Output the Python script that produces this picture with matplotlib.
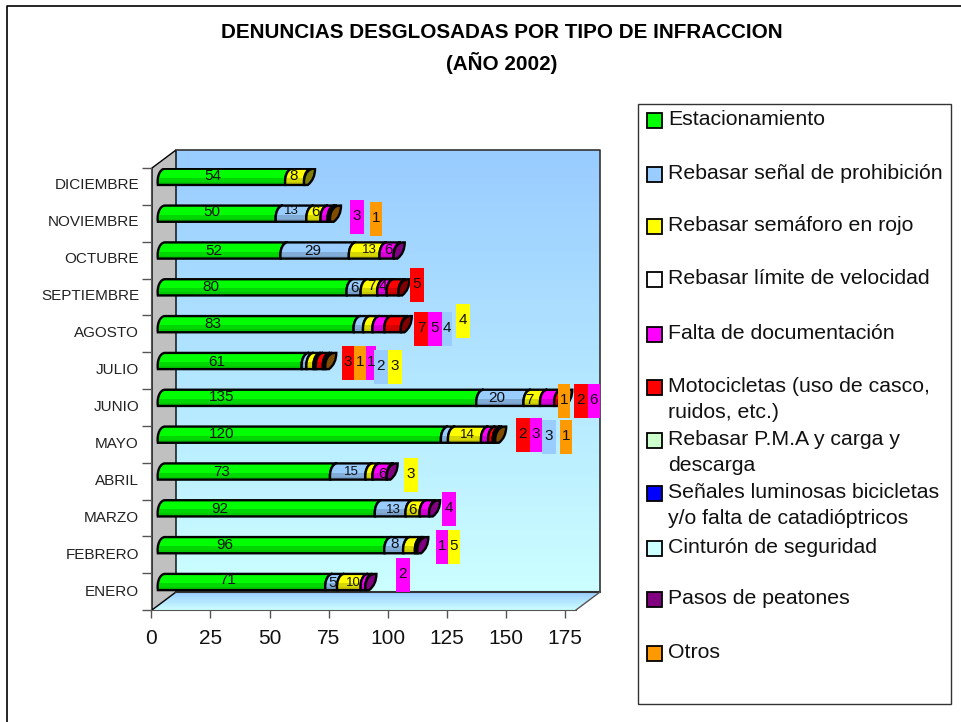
# -*- coding: utf-8 -*-
import numpy as np
import matplotlib
matplotlib.use('Agg')
import matplotlib.pyplot as plt
from matplotlib.path import Path
from matplotlib.patches import PathPatch, Polygon, Rectangle
from matplotlib.colors import to_rgb

plt.rcParams['font.family'] = ['Liberation Sans', 'DejaVu Sans']

# months from bottom to top of the chart
meses = ['ENERO', 'FEBRERO', 'MARZO', 'ABRIL', 'MAYO', 'JUNIO', 'JULIO', 'AGOSTO',
         'SEPTIEMBRE', 'OCTUBRE', 'NOVIEMBRE', 'DICIEMBRE']
estacionamiento = [71, 96, 92, 73, 120, 135, 61, 83, 80, 52, 50, 54]
senal = [5, 8, 13, 15, 3, 20, 2, 4, 6, 29, 13, 0]
semaforo = [10, 5, 6, 3, 14, 7, 3, 4, 7, 13, 6, 8]
limite = [0] * 12
documentacion = [2, 1, 4, 6, 3, 6, 1, 5, 4, 6, 3, 0]
motos = [0, 0, 0, 0, 2, 2, 3, 7, 5, 0, 0, 0]
pma = [0] * 12
luminosas = [0] * 12
cinturon = [0] * 12
pasos = [0] * 12
otros = [0, 0, 0, 0, 1, 1, 1, 0, 0, 0, 1, 0]

series = [estacionamiento, senal, semaforo, limite, documentacion, motos,
          pma, luminosas, cinturon, pasos, otros]
colores = ['#00FF00', '#99CCFF', '#FFFF00', '#FFFFFF', '#FF00FF', '#FF0000',
           '#CCFFCC', '#0000FF', '#CCFFFF', '#800080', '#FF9900']
leyenda = ['Estacionamiento', 'Rebasar señal de prohibición', 'Rebasar semáforo en rojo',
           'Rebasar límite de velocidad', 'Falta de documentación',
           'Motocicletas (uso de casco,\nruidos, etc.)', 'Rebasar P.M.A y carga y\ndescarga',
           'Señales luminosas bicicletas\ny/o falta de catadióptricos',
           'Cinturón de seguridad', 'Pasos de peatones', 'Otros']
ticks_x = [0, 25, 50, 75, 100, 125, 150, 175]

# layout below, in pixels of the picture
ley_y = [119, 173, 225, 278, 333, 386, 439, 492, 547, 598, 652]
pos_dentro = {(11, 0): (213, 176), (11, 2): (294, 176),
              (10, 0): (212, 212), (10, 1): (291, 211), (10, 2): (316, 212),
              (9, 0): (214, 251), (9, 1): (313, 251), (9, 2): (369, 250), (9, 4): (389, 250),
              (8, 0): (211, 287), (8, 1): (355, 288), (8, 2): (371, 286), (8, 4): (383, 286),
              (7, 0): (213, 324), (6, 0): (217, 362),
              (5, 0): (222, 397), (5, 1): (497, 398), (5, 2): (529, 400),
              (4, 0): (222, 434), (4, 2): (467, 435),
              (3, 0): (222, 472), (3, 1): (351, 472), (3, 4): (383, 474),
              (2, 0): (220, 509), (2, 1): (393, 510), (2, 2): (413, 510),
              (1, 0): (225, 545), (1, 1): (395, 544),
              (0, 0): (228, 580), (0, 1): (333, 583), (0, 2): (353, 583)}
cajas = {(10, 4): (350, 364, 200), (10, 10): (370, 382, 202),
         (8, 5): (410, 424, 268),
         (7, 5): (414, 428, 312), (7, 4): (428, 442, 312), (7, 1): (442, 452, 312),
         (7, 2): (456, 470, 304),
         (6, 5): (342, 354, 346), (6, 10): (354, 366, 346), (6, 4): (366, 376, 346),
         (6, 1): (374, 388, 350), (6, 2): (388, 402, 350),
         (5, 10): (558, 570, 384), (5, 5): (574, 588, 384), (5, 4): (588, 600, 384),
         (4, 5): (516, 530, 418), (4, 4): (530, 542, 418), (4, 1): (542, 556, 420),
         (4, 10): (560, 572, 420),
         (3, 2): (404, 418, 458), (2, 4): (442, 456, 492),
         (1, 4): (436, 448, 530), (1, 2): (448, 460, 530), (0, 4): (396, 410, 558)}
pequenos = [(10, 1), (9, 2), (4, 2), (3, 1), (2, 1), (0, 2)]

fig = plt.figure(figsize=(9.62, 7.22), dpi=100)


def capa(z):
    a = fig.add_axes([0, 0, 1, 1], zorder=z)
    a.set_xlim(0, 962)
    a.set_ylim(722, 0)
    a.axis('off')
    return a


def degradado(a, puntos, c1, c2):
    pol = Polygon(puntos, closed=True, facecolor='none', edgecolor='none')
    a.add_patch(pol)
    xs = [p[0] for p in puntos]
    ys = [p[1] for p in puntos]
    g = np.linspace(0, 1, 128)[:, None, None]
    img = (1 - g) * np.array(to_rgb(c1)) + g * np.array(to_rgb(c2))
    im = a.imshow(img, extent=(min(xs), max(xs), max(ys), min(ys)), aspect='auto', zorder=1)
    im.set_clip_path(pol)


fondo = capa(0)
frente = capa(3)

# page frame
fondo.plot([7.5, 7.5, 962], [722, 5.5, 5.5], color='black', lw=1.2)

# back wall, floor, side wall
degradado(fondo, [(176, 150), (600, 150), (600, 592), (176, 592)], '#99CCFF', '#CCFFFF')
degradado(fondo, [(176, 592), (600, 592), (576, 610), (152, 610)], '#99CCFF', '#CCFFFF')
fondo.add_patch(Polygon([(152, 168), (176, 150), (176, 592), (152, 610)], closed=True,
                        facecolor='#C0C0C0', edgecolor='black', lw=1, zorder=2))
fondo.plot([176, 600, 600], [150, 150, 592], color='#333333', lw=1.2, zorder=3)
fondo.plot([176, 600], [592, 592], color='#333333', lw=1.5, zorder=3)
fondo.plot([600, 576], [592, 610], color='#555555', lw=1, zorder=3)

ax = fig.add_axes([151.5 / 962, 1 - 610 / 722, 424.8 / 962, 442 / 722], zorder=2)
ax.patch.set_alpha(0)

x0 = 2.7      # bars start a bit inside the axis
y_atras = 0.26  # bars stand on the back plane
alto = 0.44
s = 3.0


def arco(x, yb, yt, sl):
    return [(x, yb), (x - 0.5, yb + (yt - yb) * 0.55), (x + sl * 0.35, yt), (x + sl, yt)]


for i in range(len(meses)):
    yb = i + y_atras - alto / 2
    yt = i + y_atras + alto / 2
    izq = x0
    ultimo = None
    for k, serie in enumerate(series):
        v = serie[i]
        if v == 0:
            continue
        der = izq + v
        a1 = arco(izq, yb, yt, s)
        a2 = arco(der, yb, yt, s)
        verts = a1 + [(der + s, yt)] + a2[::-1][1:] + [a1[0]]
        codes = [Path.MOVETO, Path.CURVE4, Path.CURVE4, Path.CURVE4, Path.LINETO,
                 Path.CURVE4, Path.CURVE4, Path.CURVE4, Path.CLOSEPOLY]
        seg = PathPatch(Path(verts, codes), facecolor=colores[k], edgecolor='black', lw=1.7, zorder=3 + k * 0.1)
        ax.add_patch(seg)
        # dark band at the underside of the tube
        g = np.array([[0.0], [0.0], [0.0], [0.16], [0.22]])
        sombra = np.zeros((5, 1, 4))
        sombra[:, :, 3] = g
        im = ax.imshow(sombra, extent=(izq - 1, der + s + 1, yb, yt), origin='upper', aspect='auto',
                       zorder=3 + k * 0.1 + 0.01)
        im.set_clip_path(seg)
        izq = der
        ultimo = k
    # end cap, darker colour of the last segment
    c = np.array(to_rgb(colores[ultimo])) * 0.5
    sl = 4.0
    a1 = arco(izq, yb, yt, sl)
    verts = a1 + [(izq + sl + 0.6, yt), (izq + sl + 0.6, yb + 0.15), (izq + 1.5, yb), a1[0]]
    codes = [Path.MOVETO, Path.CURVE4, Path.CURVE4, Path.CURVE4, Path.LINETO,
             Path.CURVE3, Path.CURVE3, Path.CLOSEPOLY]
    ax.add_patch(PathPatch(Path(verts, codes), facecolor=c, edgecolor='black', lw=1.7, zorder=5))

ax.set_xlim(0, 180)
ax.set_ylim(-0.5, 11.5)
for lado in ['top', 'right']:
    ax.spines[lado].set_visible(False)
ax.spines['left'].set_color('#555555')
ax.spines['bottom'].set_color('#555555')
ax.set_xticks(ticks_x)
ax.set_xticklabels(ticks_x, fontsize=15, color='#111111')
ax.tick_params(axis='x', length=6, width=1, color='#555555', pad=8)
ax.set_yticks(np.arange(-0.5, 12, 1))
ax.set_yticklabels([])
ax.set_yticks(np.arange(0, 12) * 1.004 + 0.03, labels=meses, minor=True, fontsize=11, color='#222222')
ax.tick_params(axis='y', which='major', length=6.5, width=1, color='#555555')
ax.tick_params(axis='y', which='minor', length=0, pad=9)

# values inside the tubes
for (m, k), (px, py) in pos_dentro.items():
    frente.text(px, py, str(series[k][m]), ha='center', va='center', color='#111111',
                fontsize=9.5 if (m, k) in pequenos else 11)

# values moved out of the tubes
for (m, k), (x1, x2, y1) in cajas.items():
    frente.add_patch(Rectangle((x1, y1), x2 - x1, 34, facecolor=colores[k], edgecolor='none'))
    frente.text((x1 + x2) / 2, y1 + 16, str(series[k][m]), ha='center', va='center',
                color='#111111', fontsize=11)

frente.text(502, 32, 'DENUNCIAS DESGLOSADAS POR TIPO DE INFRACCION', ha='center', va='center',
            fontsize=14.85, fontweight='bold')
frente.text(502, 63, '(AÑO 2002)', ha='center', va='center', fontsize=14.85, fontweight='bold')

# legend box
frente.add_patch(Rectangle((638, 103.5), 313.5, 600, facecolor='white', edgecolor='#333333', lw=1))
for k, nombre in enumerate(leyenda):
    frente.add_patch(Rectangle((647.5, ley_y[k] - 6), 15, 15, facecolor=colores[k],
                               edgecolor='black', lw=1.3))
    frente.text(668, ley_y[k] - 9, nombre, ha='left', va='top', fontsize=15.3, color='#111111',
                linespacing=1.48)

fig.savefig('out.png', dpi=100)
